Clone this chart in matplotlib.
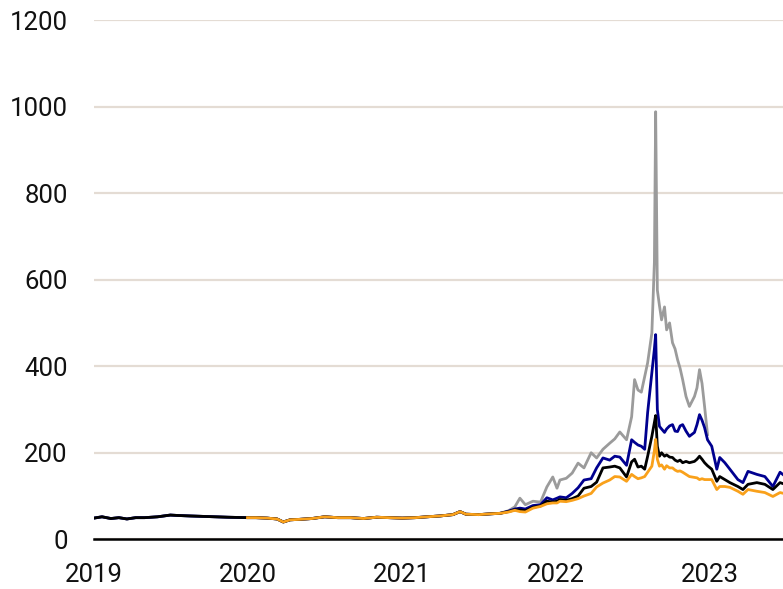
import numpy as np
import pandas as pd
import matplotlib
matplotlib.use("Agg")
import matplotlib.pyplot as plt
import matplotlib.dates as mdates

plt.rcParams["font.family"] = ["Roboto", "DejaVu Sans"]

# shared level while the four series move together (2019 - summer 2021)
early_dates = [
    "2019-01-01", "2019-01-20", "2019-02-10", "2019-03-01", "2019-03-20",
    "2019-04-10", "2019-05-01", "2019-06-01", "2019-07-01", "2019-07-20",
    "2019-08-15", "2019-09-15", "2019-10-15", "2019-11-15", "2019-12-31",
    "2020-01-20", "2020-02-15", "2020-03-10", "2020-03-25", "2020-04-10",
    "2020-05-01", "2020-06-01", "2020-07-01", "2020-08-01", "2020-09-01",
    "2020-10-01", "2020-11-01", "2020-12-01", "2021-01-01", "2021-02-01",
    "2021-03-01", "2021-04-01", "2021-05-01", "2021-05-18", "2021-06-01",
    "2021-07-01", "2021-08-01", "2021-08-21",
]
early_level = [
    49, 52, 48, 50, 47, 50, 50, 52, 56, 55, 54, 53, 52, 51, 50,
    50, 49, 47, 40, 45, 46, 48, 52, 50, 50, 48, 51, 50, 49, 50,
    52, 54, 57, 64, 58, 57, 59, 60,
]
orange_start = "2019-12-31"

late_dates = [
    "2021-09-10", "2021-09-25", "2021-10-07", "2021-10-20", "2021-11-07",
    "2021-11-25", "2021-12-10", "2021-12-24", "2022-01-03", "2022-01-10",
    "2022-01-25", "2022-02-08", "2022-02-22", "2022-03-08", "2022-03-25",
    "2022-04-07", "2022-04-22", "2022-05-08", "2022-05-20", "2022-06-01",
    "2022-06-17", "2022-06-29", "2022-07-06", "2022-07-14", "2022-07-22",
    "2022-07-30", "2022-08-06", "2022-08-16", "2022-08-22", "2022-08-25",
    "2022-08-29", "2022-09-03", "2022-09-08", "2022-09-15", "2022-09-20",
    "2022-09-27", "2022-10-04", "2022-10-10", "2022-10-16", "2022-10-22",
    "2022-10-28", "2022-11-05", "2022-11-13", "2022-11-25", "2022-12-01",
    "2022-12-07", "2022-12-13", "2022-12-19", "2022-12-26", "2023-01-05",
    "2023-01-17", "2023-01-24", "2023-02-05", "2023-02-17", "2023-03-08",
    "2023-03-20", "2023-04-01", "2023-04-22", "2023-05-11", "2023-05-30",
    "2023-06-16", "2023-06-25",
]
nan = np.nan
gray_late = [
    66, 75, 95, 80, 88, 86, 121, 144, 118, 137,
    141, 153, 176, 165, 200, 188, 208, 222, 232, 248,
    230, 283, 369, 345, 340, 376, 408, 477, 640, 988,
    576, 540, 507, 537, 484, 500, 454, 440, 415, 395,
    369, 330, 307, 330, 350, 392, 360, 307, 242, nan,
    nan, nan, nan, nan, nan, nan, nan, nan, nan, nan,
    nan, nan,
]
blue_late = [
    65, 70, 72, 70, 78, 80, 96, 91, 95, 98,
    96, 106, 119, 137, 140, 165, 188, 183, 192, 190,
    171, 230, 224, 218, 215, 208, 293, 385, 440, 473,
    300, 261, 255, 247, 255, 262, 265, 250, 249, 262,
    265, 250, 238, 247, 265, 288, 275, 258, 230, 215,
    162, 189, 177, 162, 138, 131, 157, 150, 145, 122,
    155, 148,
]
black_late = [
    64, 68, 68, 66, 74, 77, 88, 86, 88, 92,
    90, 94, 100, 118, 122, 132, 165, 167, 169, 165,
    144, 179, 185, 167, 169, 162, 192, 238, 270, 286,
    215, 192, 200, 192, 195, 190, 189, 183, 180, 183,
    177, 180, 177, 180, 185, 192, 185, 177, 170, 162,
    134, 145, 138, 131, 122, 115, 127, 131, 127, 115,
    131, 128,
]
orange_late = [
    63, 67, 64, 63, 72, 76, 82, 84, 84, 88,
    87, 90, 94, 100, 106, 121, 130, 137, 145, 144,
    134, 150, 145, 140, 142, 145, 155, 169, 205, 231,
    185, 169, 172, 162, 170, 165, 165, 160, 157, 158,
    155, 150, 145, 143, 142, 138, 140, 138, 138, 138,
    115, 122, 122, 120, 111, 104, 115, 111, 108, 99,
    108, 106,
]

dates = pd.to_datetime(early_dates + late_dates)
early = np.array(early_level, dtype=float)
gray = np.concatenate([early, gray_late])
blue = np.concatenate([early, blue_late])
black = np.concatenate([early, black_late])
orange = np.concatenate([early, orange_late])
orange[dates < pd.Timestamp(orange_start)] = np.nan

W, H = 783, 589
fig = plt.figure(figsize=(W / 100, H / 100), dpi=100)
ax = fig.add_axes([94 / W, 1 - 539.3 / H, (W - 94) / W, (539.3 - 20) / H])

lw = 2.0
ax.plot(dates, gray, color="#9b9b9b", lw=lw, zorder=3)
ax.plot(dates, blue, color="#00008f", lw=lw, zorder=4)
ax.plot(dates, black, color="#000000", lw=lw, zorder=5)
ax.plot(dates, orange, color="#f9a11b", lw=lw, zorder=6)

ax.set_ylim(0, 1200)
ax.set_yticks(range(0, 1201, 200))
ax.set_xlim(pd.Timestamp("2019-01-01"), pd.Timestamp("2023-06-23"))
ax.xaxis.set_major_locator(mdates.YearLocator())
ax.xaxis.set_major_formatter(mdates.DateFormatter("%Y"))

ax.grid(axis="y", color="#e4dcd4", lw=1.6, zorder=0)
ax.set_axisbelow(True)
for side in ["top", "right", "left"]:
    ax.spines[side].set_visible(False)
ax.spines["bottom"].set_color("black")
ax.spines["bottom"].set_linewidth(1.8)
ax.spines["bottom"].set_zorder(7)

ax.tick_params(axis="both", length=0, labelsize=18.5, colors="#111111")
ax.tick_params(axis="y", pad=19)
ax.tick_params(axis="x", pad=17)

fig.savefig("out.png", dpi=100)
